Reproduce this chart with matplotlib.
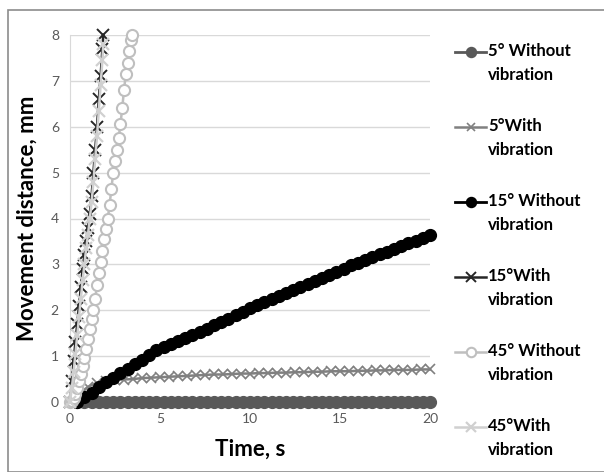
import numpy as np
import matplotlib.pyplot as plt
from matplotlib.lines import Line2D
from matplotlib.patches import Rectangle

# series (time in s, distance in mm)
t_5_without = [0.4, 0.8, 1.2, 1.6, 2.0, 2.4, 2.8, 3.2, 3.6, 4.0, 4.4, 4.8, 5.2, 5.6, 6.0, 6.4, 6.8,
               7.2, 7.6, 8.0, 8.4, 8.8, 9.2, 9.6, 10.0, 10.4, 10.8, 11.2, 11.6, 12.0, 12.4, 12.8,
               13.2, 13.6, 14.0, 14.4, 14.8, 15.2, 15.6, 16.0, 16.4, 16.8, 17.2, 17.6, 18.0, 18.4,
               18.8, 19.2, 19.6, 20.0]
y_5_without = [0.00, 0.00, 0.00, 0.00, 0.00, 0.00, 0.00, 0.00, 0.00, 0.00, 0.00, 0.00, 0.00, 0.00,
               0.00, 0.00, 0.00, 0.00, 0.00, 0.00, 0.00, 0.00, 0.00, 0.00, 0.00, 0.00, 0.00, 0.00,
               0.01, 0.01, 0.01, 0.01, 0.01, 0.01, 0.01, 0.01, 0.01, 0.01, 0.01, 0.01, 0.01, 0.01,
               0.01, 0.01, 0.01, 0.01, 0.01, 0.01, 0.01, 0.01]

t_5_with = [0.0, 0.5, 1.0, 1.5, 2.0, 2.5, 3.0, 3.5, 4.0, 4.5, 5.0, 5.5, 6.0, 6.5, 7.0, 7.5, 8.0, 8.5,
            9.0, 9.5, 10.0, 10.5, 11.0, 11.5, 12.0, 12.5, 13.0, 13.5, 14.0, 14.5, 15.0, 15.5, 16.0,
            16.5, 17.0, 17.5, 18.0, 18.5, 19.0, 19.5, 20.0]
y_5_with = [0.00, 0.18, 0.33, 0.42, 0.46, 0.48, 0.49, 0.50, 0.52, 0.53, 0.54, 0.55, 0.56, 0.57,
            0.58, 0.59, 0.60, 0.60, 0.61, 0.62, 0.62, 0.63, 0.63, 0.64, 0.64, 0.65, 0.65, 0.66,
            0.66, 0.67, 0.67, 0.67, 0.68, 0.68, 0.69, 0.69, 0.70, 0.70, 0.70, 0.71, 0.71]

t_15_without = t_5_without
y_15_without = [0.00, 0.10, 0.20, 0.33, 0.44, 0.53, 0.63, 0.72, 0.82, 0.92, 1.02, 1.13, 1.20, 1.27,
                1.33, 1.40, 1.47, 1.53, 1.60, 1.67, 1.74, 1.81, 1.89, 1.97, 2.05, 2.12, 2.18, 2.25,
                2.31, 2.38, 2.44, 2.50, 2.57, 2.64, 2.71, 2.77, 2.84, 2.91, 2.98, 3.04, 3.10, 3.16,
                3.22, 3.28, 3.34, 3.40, 3.46, 3.52, 3.58, 3.65]

t_15_with = [0.0, 0.1, 0.2, 0.3, 0.4, 0.5, 0.6, 0.7, 0.8, 0.9, 1.0, 1.1, 1.2, 1.3, 1.4, 1.5, 1.6,
             1.7, 1.8, 1.85]
y_15_with = [0.00, 0.45, 0.90, 1.30, 1.70, 2.10, 2.50, 2.90, 3.20, 3.50, 3.80, 4.10, 4.50, 5.00,
             5.50, 6.00, 6.60, 7.10, 7.70, 8.00]

t_45_without = [0.0, 0.1, 0.2, 0.3, 0.4, 0.5, 0.6, 0.7, 0.8, 0.9, 1.0, 1.1, 1.2, 1.3, 1.4, 1.5,
                1.6, 1.7, 1.8, 1.9, 2.0, 2.1, 2.2, 2.3, 2.4, 2.5, 2.6, 2.7, 2.8, 2.9, 3.0, 3.1,
                3.2, 3.3, 3.4, 3.45]
y_45_without = [0.00, 0.02, 0.08, 0.17, 0.30, 0.45, 0.60, 0.78, 0.95, 1.15, 1.38, 1.60, 1.80,
                2.00, 2.25, 2.55, 2.82, 3.05, 3.30, 3.55, 3.78, 4.00, 4.30, 4.65, 5.00, 5.25,
                5.50, 5.75, 6.05, 6.40, 6.80, 7.15, 7.40, 7.65, 7.90, 8.00]

t_45_with = [0.0, 0.1, 0.2, 0.3, 0.4, 0.5, 0.6, 0.7, 0.8, 0.9, 1.0, 1.1, 1.2, 1.3, 1.4, 1.5, 1.6,
             1.7, 1.8, 1.85]
y_45_with = [0.00, 0.30, 0.65, 1.05, 1.45, 1.85, 2.25, 2.65, 3.00, 3.35, 3.65, 4.00, 4.35, 4.80,
             5.30, 5.80, 6.35, 6.90, 7.45, 7.80]

labels = ["5° Without\nvibration", "5°With\nvibration", "15° Without\nvibration",
          "15°With\nvibration", "45° Without\nvibration", "45°With\nvibration"]

plt.rcParams['font.family'] = ['Lato', 'DejaVu Sans']

W, H = 604, 472
fig = plt.figure(figsize=(W / 100, H / 100), dpi=100)
fig.patches.append(Rectangle((8 / W, 0), 1, 1 - 10 / H, transform=fig.transFigure,
                             fill=False, edgecolor='#8c8c8c', linewidth=1.2))

ax = fig.add_axes([70 / W, 1 - 402 / H, 360 / W, 367 / H])

styles = [
    dict(color='#595959', marker='o', ms=8.5, mfc='#595959', mec='#595959', lw=2),
    dict(color='#808080', marker='x', ms=7, mfc='none', mec='#808080', mew=1.2, lw=1.8),
    dict(color='black', marker='o', ms=8.5, mfc='black', mec='black', lw=2),
    dict(color='#262626', marker='x', ms=8.5, mfc='none', mec='#262626', mew=1.4, lw=1.8),
    dict(color='#bfbfbf', marker='o', ms=8, mfc='white', mec='#bfbfbf', mew=1.5, lw=1.8),
    dict(color='#d0d0d0', marker='x', ms=8.5, mfc='none', mec='#d0d0d0', mew=1.6, lw=1.8),
]
series = [(t_5_without, y_5_without), (t_5_with, y_5_with), (t_15_without, y_15_without),
          (t_15_with, y_15_with), (t_45_without, y_45_without), (t_45_with, y_45_with)]

for (t, y), st in zip(series, styles):
    ax.plot(t, y, clip_on=False, zorder=3, **st)

ax.set_xlim(0, 20)
ax.set_ylim(0, 8)
ax.set_xticks([0, 5, 10, 15, 20])
ax.set_yticks(range(9))
ax.grid(axis='y', color='#d9d9d9', lw=1)
ax.set_axisbelow(True)
for s in ['top', 'right']:
    ax.spines[s].set_visible(False)
ax.spines['left'].set_color('#d9d9d9')
ax.spines['bottom'].set_color('#d9d9d9')
ax.tick_params(length=0, labelsize=10, labelcolor='#595959', pad=8)

ax.set_xlabel('Time, s', fontsize=16, fontweight='bold')
ax.set_ylabel('Movement distance, mm', fontsize=16, fontweight='bold')
ax.xaxis.set_label_coords(0.5, -0.1)
ax.yaxis.set_label_coords(-0.09, 0.5)

# legend drawn by hand so the handle sits on the first text line
for i, (lab, st) in enumerate(zip(labels, styles)):
    yc = 1 - (52 + 75 * i) / H
    fig.add_artist(Line2D([455 / W, 486 / W], [yc, yc], transform=fig.transFigure,
                          color=st['color'], lw=st['lw']))
    fig.add_artist(Line2D([470.5 / W], [yc], transform=fig.transFigure, marker=st['marker'],
                          ms=st['ms'] * 0.85, mfc=st['mfc'], mec=st['mec'],
                          mew=st.get('mew', 1), linestyle='none'))
    fig.text(488 / W, yc + 9 / H, lab, fontsize=12, fontweight='bold', va='top',
             linespacing=1.6)

fig.savefig('out.png', dpi=100)
